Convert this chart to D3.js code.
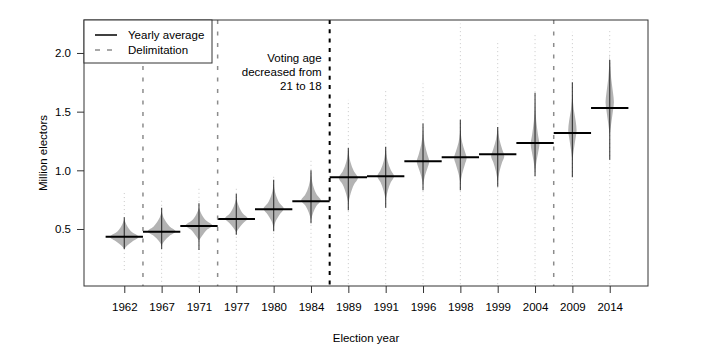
<!DOCTYPE html>
<html><head><meta charset="utf-8">
<script src="https://cdn.jsdelivr.net/npm/d3@7"></script>
<style>body{margin:0;background:#fff}svg{display:block;font-family:"Liberation Sans",Arial,Helvetica,sans-serif}</style>
</head><body><svg id="c" width="723" height="350"></svg>
<script>
// ---- data ----
const years = ["1962","1967","1971","1977","1980","1984","1989","1991","1996","1998","1999","2004","2009","2014"];
const averages = [0.434,0.477,0.526,0.585,0.668,0.736,0.941,0.949,1.077,1.111,1.137,1.233,1.318,1.532];
const obsMin = [0.15,0.05,0.05,0.05,0.05,0.05,0.03,0.03,0.03,0.03,0.03,0.03,0.03,0.03];
const obsMax = [0.82,0.75,0.86,0.86,0.96,1.09,1.60,1.70,1.74,2.25,2.11,2.17,2.18,2.21];
const coreLo = [0.33,0.33,0.32,0.45,0.48,0.55,0.66,0.68,0.83,0.83,0.86,0.95,0.94,1.09];
const coreHi = [0.60,0.68,0.72,0.80,0.92,1.00,1.19,1.20,1.40,1.43,1.37,1.66,1.75,1.94];
// bean density profiles: [value (million electors), relative density]
const beanProfiles = [
  [[0.33,0],[0.36,0.2],[0.39,0.5],[0.434,0.96],[0.47,0.55],[0.52,0.22],[0.585,0]],
  [[0.36,0],[0.40,0.2],[0.44,0.52],[0.48,0.94],[0.52,0.55],[0.58,0.2],[0.65,0]],
  [[0.40,0],[0.44,0.2],[0.49,0.5],[0.53,0.89],[0.57,0.5],[0.62,0.2],[0.68,0]],
  [[0.47,0],[0.51,0.2],[0.55,0.45],[0.59,0.76],[0.63,0.45],[0.69,0.18],[0.76,0]],
  [[0.50,0],[0.57,0.15],[0.62,0.38],[0.675,0.68],[0.72,0.4],[0.79,0.15],[0.90,0]],
  [[0.57,0],[0.64,0.15],[0.70,0.38],[0.745,0.66],[0.79,0.4],[0.87,0.14],[1.0,0]],
  [[0.72,0],[0.80,0.15],[0.88,0.38],[0.935,0.64],[0.99,0.38],[1.07,0.14],[1.19,0]],
  [[0.75,0],[0.83,0.15],[0.90,0.35],[0.95,0.56],[1.00,0.35],[1.08,0.13],[1.2,0]],
  [[0.87,0],[0.95,0.12],[1.02,0.3],[1.075,0.42],[1.13,0.3],[1.22,0.12],[1.36,0]],
  [[0.89,0],[0.97,0.12],[1.05,0.3],[1.105,0.42],[1.16,0.3],[1.24,0.12],[1.36,0]],
  [[0.90,0],[0.99,0.12],[1.07,0.3],[1.12,0.44],[1.18,0.3],[1.26,0.12],[1.37,0]],
  [[0.98,0],[1.08,0.1],[1.16,0.22],[1.22,0.29],[1.30,0.2],[1.42,0.08],[1.60,0]],
  [[1.08,0],[1.18,0.1],[1.28,0.22],[1.34,0.28],[1.42,0.22],[1.52,0.09],[1.66,0]],
  [[1.30,0],[1.40,0.1],[1.51,0.22],[1.58,0.28],[1.66,0.22],[1.78,0.1],[2.0,0]]
];
const delimitations = [1.5, 3.5, 12.5];
const votingAgeChange = 6.5;
const yTicks = [0.5, 1.0, 1.5, 2.0];
const legendLabels = ["Yearly average", "Delimitation"];
const noteLines = ["Voting age", "decreased from", "21 to 18"];

// ---- layout ----
const L = 84, R = 648, T = 20, B = 286;
const svg = d3.select("#c");
const x = d3.scaleLinear().domain([-0.079, 15.025]).range([L, R]);
const y = d3.scaleLinear().domain([0.0142, 2.281]).range([B, T]);
const halfW = w => x(w * 0.4) - x(0);
const FS = "11.5px";

const g = svg.append("g");

// faint observation strips
years.forEach((yr, i) => {
  const cx = x(i + 1);
  g.append("line").attr("x1", cx).attr("x2", cx)
    .attr("y1", y(obsMin[i])).attr("y2", y(obsMax[i]))
    .attr("stroke", "#c8c8c8").attr("stroke-width", 1)
    .attr("stroke-dasharray", "1,3");
});

// beans
years.forEach((yr, i) => {
  const cx = x(i + 1);
  const pts = beanProfiles[i].slice().sort((a, b) => b[0] - a[0]);
  const area = d3.area()
    .y(d => y(d[0]))
    .x0(d => cx - halfW(d[1]))
    .x1(d => cx + halfW(d[1]))
    .curve(d3.curveMonotoneY);
  g.append("path").attr("d", area(pts)).attr("fill", "#b3b3b3").attr("stroke", "none");
});

// dense bean lines (core)
years.forEach((yr, i) => {
  const cx = x(i + 1);
  g.append("line").attr("x1", cx).attr("x2", cx)
    .attr("y1", y(coreLo[i])).attr("y2", y(coreHi[i]))
    .attr("stroke", "#111").attr("stroke-width", 1.2).attr("stroke-opacity", 0.75);
});

// averages
years.forEach((yr, i) => {
  g.append("line")
    .attr("x1", x(i + 0.5)).attr("x2", x(i + 1.5))
    .attr("y1", y(averages[i])).attr("y2", y(averages[i]))
    .attr("stroke", "#000").attr("stroke-width", 2);
});

// delimitation lines
delimitations.forEach(d => {
  g.append("line").attr("x1", x(d)).attr("x2", x(d)).attr("y1", T).attr("y2", B)
    .attr("stroke", "#8c8c8c").attr("stroke-width", 1.5).attr("stroke-dasharray", "4,7.5");
});
g.append("line").attr("x1", x(votingAgeChange)).attr("x2", x(votingAgeChange)).attr("y1", T).attr("y2", B)
  .attr("stroke", "#000").attr("stroke-width", 2).attr("stroke-dasharray", "4,5.3");

// annotation
const note = svg.append("text").attr("text-anchor", "end").attr("font-size", FS).attr("fill", "#000");
noteLines.forEach((t, k) => note.append("tspan").attr("x", x(votingAgeChange) - 8).attr("y", 61.5 + k * 14).text(t));

// box
svg.append("rect").attr("x", L).attr("y", T).attr("width", R - L).attr("height", B - T)
  .attr("fill", "none").attr("stroke", "#333").attr("stroke-width", 1);

// axes
const ya = svg.append("g").attr("transform", `translate(${L},0)`)
  .call(d3.axisLeft(y).tickValues(yTicks).tickFormat(d3.format(".1f")).tickSize(7).tickPadding(6));
const xa = svg.append("g").attr("transform", `translate(0,${B})`)
  .call(d3.axisBottom(x).tickValues(d3.range(1, years.length + 1)).tickFormat(d => years[d - 1]).tickSize(7).tickPadding(10));
[ya, xa].forEach(a => {
  a.select(".domain").remove();
  a.selectAll("line").attr("stroke", "#333");
  a.selectAll("text").attr("font-size", FS).attr("fill", "#000").attr("font-family", '"Liberation Sans",Arial,sans-serif');
});

// axis titles
svg.append("text").attr("x", (L + R) / 2).attr("y", 342).attr("text-anchor", "middle")
  .attr("font-size", FS).text("Election year");
svg.append("text").attr("transform", `translate(47,${(T + B) / 2}) rotate(-90)`).attr("text-anchor", "middle")
  .attr("font-size", FS).text("Million electors");

// legend
const lg = svg.append("g");
lg.append("rect").attr("x", L).attr("y", T).attr("width", 128).attr("height", 43)
  .attr("fill", "#fff").attr("stroke", "#333").attr("stroke-width", 1);
lg.append("line").attr("x1", 95).attr("x2", 117).attr("y1", 35).attr("y2", 35)
  .attr("stroke", "#000").attr("stroke-width", 1.5);
lg.append("line").attr("x1", 95).attr("x2", 117).attr("y1", 50).attr("y2", 50)
  .attr("stroke", "#8c8c8c").attr("stroke-width", 1.5).attr("stroke-dasharray", "5,7");
legendLabels.forEach((t, k) => lg.append("text").attr("x", 128).attr("y", 39 + k * 15)
  .attr("font-size", FS).text(t));
</script></body></html>
